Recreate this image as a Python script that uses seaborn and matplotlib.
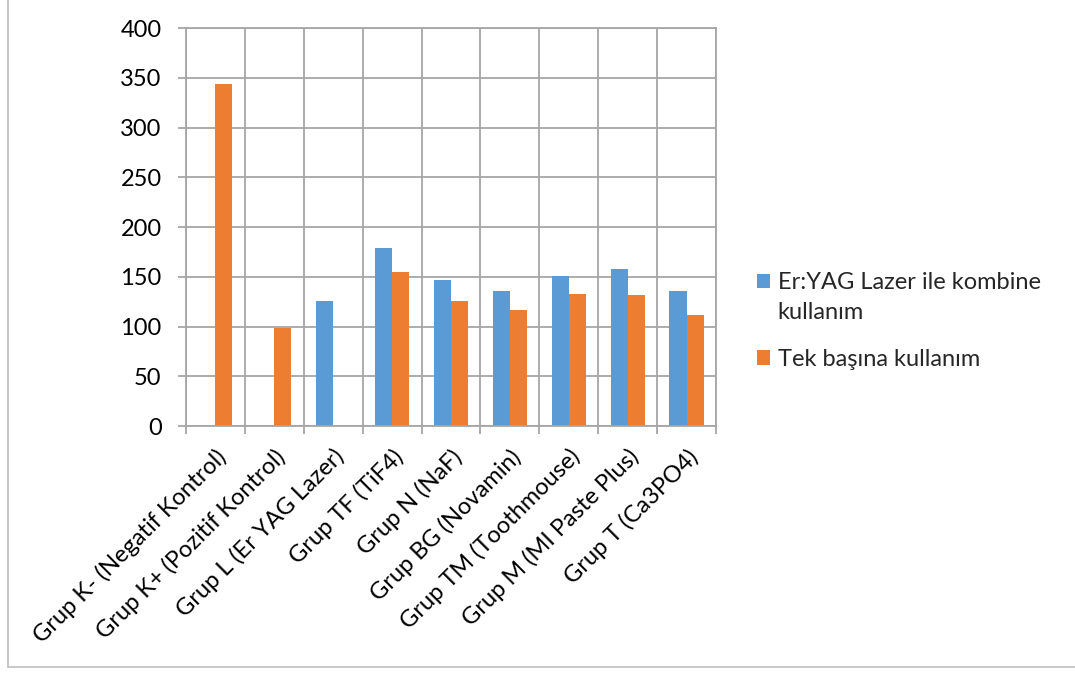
import numpy as np
import pandas as pd
import matplotlib
matplotlib.use("Agg")
import matplotlib.pyplot as plt
import matplotlib.transforms as mtransforms
import seaborn as sns
from matplotlib.lines import Line2D

categories = [
    "Grup K- (Negatif Kontrol)",
    "Grup K+ (Pozitif Kontrol)",
    "Grup L (Er YAG Lazer)",
    "Grup TF (TiF4)",
    "Grup N (NaF)",
    "Grup BG (Novamin)",
    "Grup TM (Toothmouse)",
    "Grup M (MI Paste Plus)",
    "Grup T (Ca3PO4)",
]
series_names = ["Er:YAG Lazer ile kombine\nkullanım", "Tek başına kullanım"]
combined_values = [np.nan, np.nan, 126, 179, 147, 136, 151, 158, 136]
alone_values = [344, 99, np.nan, 155, 126, 117, 133, 132, 112]
y_ticks = [0, 50, 100, 150, 200, 250, 300, 350, 400]

colors = ["#5B9BD5", "#ED7D31"]
grid_color = "#A6A6A6"
font_size = 17

df = pd.DataFrame({
    "Grup": categories * 2,
    "Seri": [series_names[0]] * len(categories) + [series_names[1]] * len(categories),
    "Deger": combined_values + alone_values,
}).dropna()

sns.set_theme(style="white")
plt.rcParams["font.family"] = ["Lato", "DejaVu Sans"]

fig = plt.figure(figsize=(10.75, 6.79), dpi=100)
ax = fig.add_axes([0.173, 0.3726, 0.493, 0.586])

sns.barplot(
    data=df, x="Grup", y="Deger", hue="Seri",
    order=categories, hue_order=series_names,
    palette=colors, width=0.58, ax=ax, errorbar=None,
    saturation=1, linewidth=0,
)

ax.set_xlim(-0.5, len(categories) - 0.5)
ax.set_ylim(0, 400)
ax.set_yticks(y_ticks)
ax.set_yticklabels([str(v) for v in y_ticks], fontsize=font_size, color="black")
ax.set_xticks(range(len(categories)))
ax.set_xticklabels(categories, rotation=45, ha="right", va="top",
                   rotation_mode="anchor", fontsize=font_size, color="black")
shift = mtransforms.ScaledTranslation(8 / 100, 0, fig.dpi_scale_trans)
for lbl in ax.get_xticklabels():
    lbl.set_transform(lbl.get_transform() + shift)
ax.set_xticks(np.arange(-0.5, len(categories), 1.0), minor=True)
ax.set_xlabel("")
ax.set_ylabel("")

ax.yaxis.grid(True, color=grid_color, linewidth=1.3)
ax.xaxis.grid(True, which="minor", color=grid_color, linewidth=1.3)
ax.xaxis.grid(False, which="major")
ax.set_axisbelow(True)

ax.tick_params(axis="x", which="major", length=0, pad=14)
ax.tick_params(axis="x", which="minor", length=5.5, width=1.3, color=grid_color,
               direction="out", bottom=True)
ax.tick_params(axis="y", length=5.5, width=1.3, color=grid_color, direction="out",
               pad=12, left=True)

for side in ["top", "right", "left", "bottom"]:
    ax.spines[side].set_color(grid_color)
    ax.spines[side].set_linewidth(1.3)

handles, labels = ax.get_legend_handles_labels()
leg = ax.legend(
    handles, labels, loc="center left", bbox_to_anchor=(1.077, 0.264),
    frameon=False, fontsize=font_size, handlelength=0.58, handleheight=0.58,
    handletextpad=0.3, labelspacing=1.1, borderpad=0, borderaxespad=0,
)
for txt in leg.get_texts():
    txt.set_linespacing(1.55)
# keep the square beside the first line of the wrapped label
first = leg.legend_handles[0]
first.set_y(first.get_y() + 0.7 * font_size)

# outer chart frame (left and bottom edges)
fig.add_artist(Line2D([0.0075, 0.0075], [0.017, 1.0], transform=fig.transFigure,
                      color="#BFBFBF", linewidth=1.2))
fig.add_artist(Line2D([0.0075, 1.0], [0.017, 0.017], transform=fig.transFigure,
                      color="#BFBFBF", linewidth=1.2))

fig.savefig("out.png", dpi=100, facecolor="white")
